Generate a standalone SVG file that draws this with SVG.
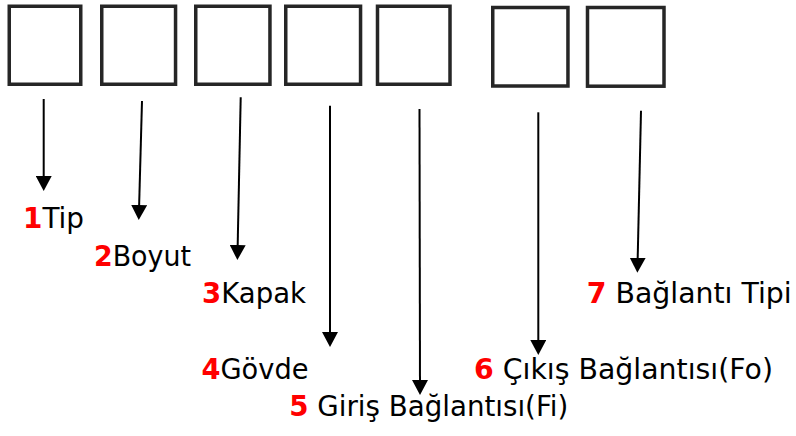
<svg xmlns="http://www.w3.org/2000/svg" width="796" height="436" viewBox="0 0 796 436">
<defs>
<style>
.box{fill:#fff;stroke:#262626;stroke-width:3.5}
.con{stroke:#000;stroke-width:2;fill:none;marker-end:url(#ah)}
.lbl{font-family:"DejaVu Sans","Liberation Sans",sans-serif;font-size:28px;fill:#000}
.num{fill:#ff0000;font-weight:bold}
</style>
<marker id="ah" markerUnits="userSpaceOnUse" viewBox="0 0 15 16" markerWidth="15" markerHeight="16" refX="9" refY="8" orient="auto">
<path d="M0,0 L15,8 L0,16 Z" fill="#000"/>
</marker>
</defs>
<rect width="796" height="436" fill="#fff"/>
<g id="box1"><rect class="box" x="9.25" y="6.25" width="71.5" height="78"/></g>
<g id="box2"><rect class="box" x="101.75" y="6.25" width="73.8" height="78"/></g>
<g id="box3"><rect class="box" x="195.75" y="6.25" width="74.2" height="78"/></g>
<g id="box4"><rect class="box" x="285.75" y="6.25" width="74.8" height="78"/></g>
<g id="box5"><rect class="box" x="377.5" y="6.25" width="72.5" height="78"/></g>
<g id="box6"><rect class="box" x="492.75" y="7.5" width="75.2" height="78.5"/></g>
<g id="box7"><rect class="box" x="587.5" y="7.5" width="76.5" height="78.7"/></g>
<g id="connectors">
<line class="con" x1="43.7" y1="99" x2="43.7" y2="185"/>
<line class="con" x1="142" y1="101" x2="138.9" y2="214"/>
<line class="con" x1="240.7" y1="97.3" x2="237.5" y2="254"/>
<line class="con" x1="330" y1="105.7" x2="330" y2="341"/>
<line class="con" x1="419.5" y1="109" x2="420" y2="389"/>
<line class="con" x1="538.3" y1="112.3" x2="538.3" y2="349"/>
<line class="con" x1="641" y1="110.7" x2="637.5" y2="266.7"/>
</g>
<g id="label1"><text class="lbl" x="23" y="228.3" textLength="61" lengthAdjust="spacingAndGlyphs"><tspan class="num">1</tspan>Tip</text></g>
<g id="label2"><text class="lbl" x="94" y="265.7" textLength="97" lengthAdjust="spacingAndGlyphs"><tspan class="num">2</tspan>Boyut</text></g>
<g id="label3"><text class="lbl" x="202" y="303.3" textLength="104" lengthAdjust="spacingAndGlyphs"><tspan class="num">3</tspan>Kapak</text></g>
<g id="label4"><text class="lbl" x="201.5" y="379.3" textLength="107" lengthAdjust="spacingAndGlyphs"><tspan class="num">4</tspan>Gövde</text></g>
<g id="label5"><text class="lbl" x="289.3" y="416" textLength="279" lengthAdjust="spacingAndGlyphs"><tspan class="num">5</tspan> Giriş Bağlantısı(Fi)</text></g>
<g id="label6"><text class="lbl" x="474" y="378.7" textLength="299" lengthAdjust="spacingAndGlyphs"><tspan class="num">6</tspan> Çıkış Bağlantısı(Fo)</text></g>
<g id="label7"><text class="lbl" x="586.7" y="303.3" textLength="205" lengthAdjust="spacingAndGlyphs"><tspan class="num">7</tspan> Bağlantı Tipi</text></g>
</svg>
